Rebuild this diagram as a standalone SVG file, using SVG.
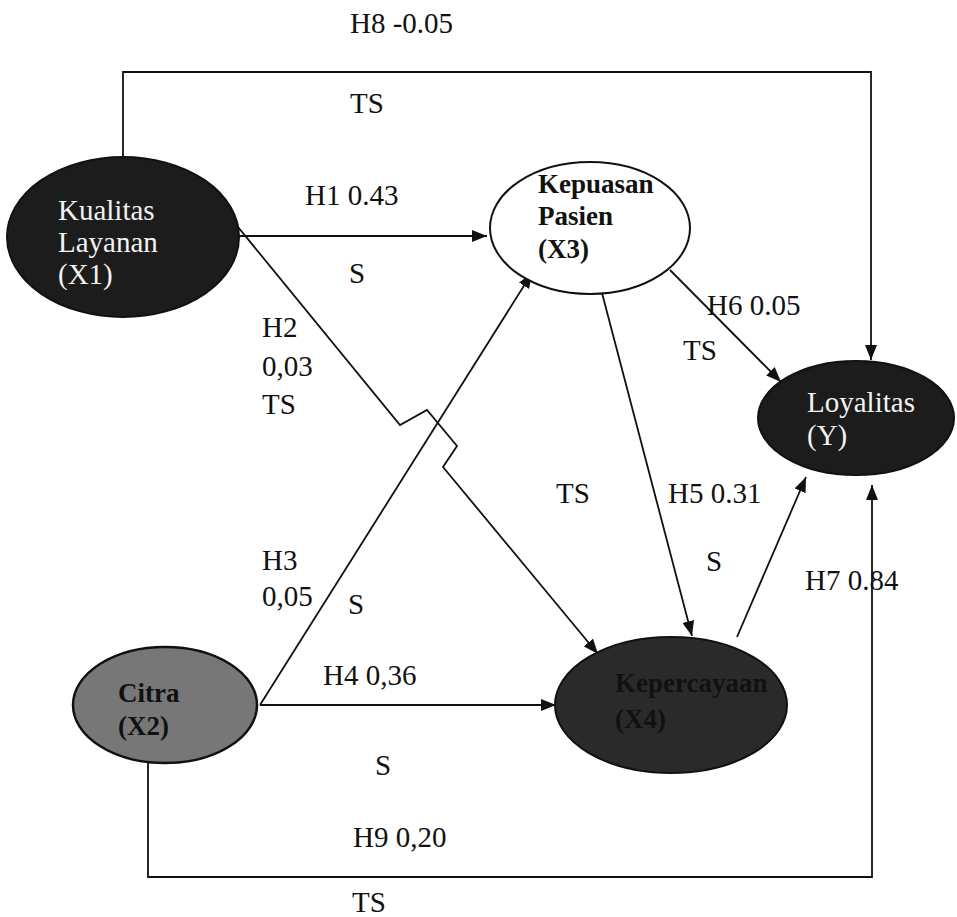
<svg xmlns="http://www.w3.org/2000/svg" width="957" height="917" viewBox="0 0 957 917">
  <defs>
    <marker id="arrow" markerUnits="userSpaceOnUse" markerWidth="16" markerHeight="12" refX="15" refY="6" orient="auto">
      <path d="M0,0 L15,6 L0,12 z" fill="#111"/>
    </marker>
    <style>
      .lbl { font-family: "Liberation Serif", "Times New Roman", serif; font-size: 29px; fill: #111; }
      .conn { fill: none; stroke: #111; stroke-width: 1.8; }
      .arr { marker-end: url(#arrow); }
      .node-w { font-family: "Liberation Serif", "Times New Roman", serif; font-size: 29px; fill: #f2f2f2; }
      .node-b { font-family: "Liberation Serif", "Times New Roman", serif; font-size: 27px; font-weight: bold; fill: #111; }
    </style>
  </defs>
  <rect width="957" height="917" fill="#ffffff"/>

  <!-- connectors -->
  <g id="connectors">
    <!-- H8: Kualitas Layanan -> Loyalitas over the top -->
    <path class="conn arr" d="M123,157 V72 H871 V360"/>
    <!-- H1 -->
    <path class="conn arr" d="M238,236 H487"/>
    <!-- H2 with hop over H3 -->
    <path class="conn arr" d="M238,227 L400,425 L427,410 L457,446 L443,467 L598,654"/>
    <!-- H3 -->
    <path class="conn arr" d="M260,705 L532,273"/>
    <!-- H4 -->
    <path class="conn arr" d="M260,705 H556"/>
    <!-- H5 -->
    <path class="conn arr" d="M602,293 L692,636"/>
    <!-- H6 -->
    <path class="conn arr" d="M670,270 L781,382"/>
    <!-- H7 -->
    <path class="conn arr" d="M737,637 L806,477"/>
    <!-- H9: Citra -> Loyalitas along the bottom -->
    <path class="conn arr" d="M148,763 V877 H872 V485"/>
  </g>

  <!-- edge labels -->
  <g id="labels">
    <text class="lbl" x="350" y="33">H8 -0.05</text>
    <text class="lbl" x="350" y="113">TS</text>
    <text class="lbl" x="305" y="205">H1 0.43</text>
    <text class="lbl" x="349" y="283">S</text>
    <text class="lbl" x="262" y="337">H2</text>
    <text class="lbl" x="262" y="376">0,03</text>
    <text class="lbl" x="262" y="414">TS</text>
    <text class="lbl" x="707" y="315">H6 0.05</text>
    <text class="lbl" x="683" y="360">TS</text>
    <text class="lbl" x="556" y="503">TS</text>
    <text class="lbl" x="668" y="503">H5 0.31</text>
    <text class="lbl" x="706" y="571">S</text>
    <text class="lbl" x="805" y="590">H7 0.84</text>
    <text class="lbl" x="262" y="570">H3</text>
    <text class="lbl" x="262" y="606">0,05</text>
    <text class="lbl" x="348" y="614">S</text>
    <text class="lbl" x="323" y="685">H4 0,36</text>
    <text class="lbl" x="375" y="775">S</text>
    <text class="lbl" x="353" y="847">H9 0,20</text>
    <text class="lbl" x="352" y="912">TS</text>
  </g>

  <!-- nodes -->
  <g id="kualitas-layanan">
    <ellipse cx="123" cy="237" rx="116" ry="80" fill="#1c1c1c" stroke="#111" stroke-width="2"/>
    <text class="node-w" x="58" y="220">Kualitas</text>
    <text class="node-w" x="58" y="252">Layanan</text>
    <text class="node-w" x="58" y="284">(X1)</text>
  </g>

  <g id="kepuasan-pasien">
    <ellipse cx="590" cy="228" rx="100" ry="66" fill="#ffffff" stroke="#111" stroke-width="2"/>
    <text class="node-b" x="538" y="193">Kepuasan</text>
    <text class="node-b" x="538" y="225">Pasien</text>
    <text class="node-b" x="538" y="258">(X3)</text>
  </g>

  <g id="loyalitas">
    <ellipse cx="856" cy="418" rx="98" ry="57" fill="#1c1c1c" stroke="#111" stroke-width="2"/>
    <text class="node-w" x="807" y="412">Loyalitas</text>
    <text class="node-w" x="807" y="445">(Y)</text>
  </g>

  <g id="citra">
    <ellipse cx="165" cy="705" rx="92" ry="58" fill="#777777" stroke="#111" stroke-width="2.5"/>
    <text class="node-b" x="118" y="702">Citra</text>
    <text class="node-b" x="118" y="735">(X2)</text>
  </g>

  <g id="kepercayaan">
    <ellipse cx="671" cy="705" rx="116" ry="68" fill="#2a2a2a" stroke="#111" stroke-width="2"/>
    <text class="node-b" x="615" y="692" fill="#0a0a0a">Kepercayaan</text>
    <text class="node-b" x="615" y="728" fill="#0a0a0a">(X4)</text>
  </g>
</svg>
